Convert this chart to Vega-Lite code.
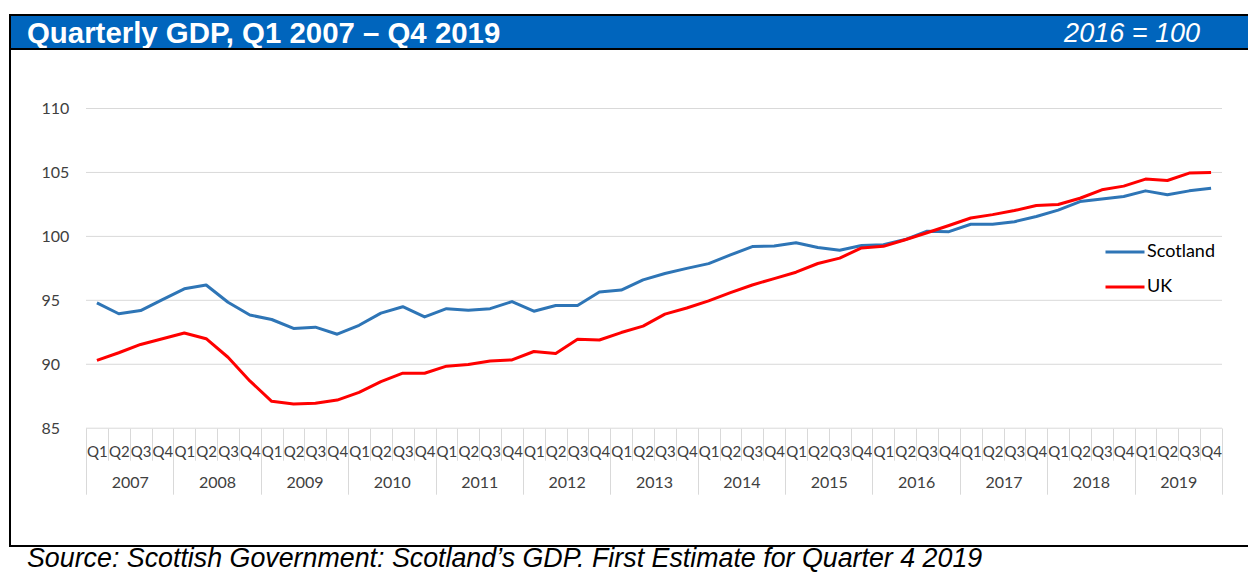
{
  "$schema": "https://vega.github.io/schema/vega-lite/v6.json",
  "padding": {"left": 9, "top": 14, "right": 0, "bottom": 0},
  "background": "white",
  "config": {"view": {"stroke": null}},
  "title": {
    "text": "Source: Scottish Government: Scotland\u2019s GDP. First Estimate for Quarter 4 2019",
    "orient": "bottom", "anchor": "start", "frame": "bounds",
    "font": "Liberation Sans", "fontSize": 26.8, "fontStyle": "italic", "fontWeight": "normal",
    "color": "#000000", "baseline": "alphabetic", "offset": 19.5, "dx": 18
  },
  "datasets": {
    "gdp": [
      {"period": "2007 Q1", "year": "2007", "Scotland": 94.8, "UK": 90.3},
      {"period": "2007 Q2", "year": "2007", "Scotland": 93.95, "UK": 90.9},
      {"period": "2007 Q3", "year": "2007", "Scotland": 94.2, "UK": 91.55},
      {"period": "2007 Q4", "year": "2007", "Scotland": 95.05, "UK": 92.0},
      {"period": "2008 Q1", "year": "2008", "Scotland": 95.9, "UK": 92.45},
      {"period": "2008 Q2", "year": "2008", "Scotland": 96.2, "UK": 92.0},
      {"period": "2008 Q3", "year": "2008", "Scotland": 94.85, "UK": 90.55},
      {"period": "2008 Q4", "year": "2008", "Scotland": 93.85, "UK": 88.7},
      {"period": "2009 Q1", "year": "2009", "Scotland": 93.5, "UK": 87.1},
      {"period": "2009 Q2", "year": "2009", "Scotland": 92.8, "UK": 86.9},
      {"period": "2009 Q3", "year": "2009", "Scotland": 92.9, "UK": 86.95},
      {"period": "2009 Q4", "year": "2009", "Scotland": 92.35, "UK": 87.2},
      {"period": "2010 Q1", "year": "2010", "Scotland": 93.05, "UK": 87.8},
      {"period": "2010 Q2", "year": "2010", "Scotland": 94.0, "UK": 88.65},
      {"period": "2010 Q3", "year": "2010", "Scotland": 94.5, "UK": 89.3},
      {"period": "2010 Q4", "year": "2010", "Scotland": 93.7, "UK": 89.3},
      {"period": "2011 Q1", "year": "2011", "Scotland": 94.35, "UK": 89.85},
      {"period": "2011 Q2", "year": "2011", "Scotland": 94.22, "UK": 89.98},
      {"period": "2011 Q3", "year": "2011", "Scotland": 94.35, "UK": 90.26},
      {"period": "2011 Q4", "year": "2011", "Scotland": 94.9, "UK": 90.34},
      {"period": "2012 Q1", "year": "2012", "Scotland": 94.15, "UK": 91.0},
      {"period": "2012 Q2", "year": "2012", "Scotland": 94.6, "UK": 90.85},
      {"period": "2012 Q3", "year": "2012", "Scotland": 94.6, "UK": 91.95},
      {"period": "2012 Q4", "year": "2012", "Scotland": 95.65, "UK": 91.9},
      {"period": "2013 Q1", "year": "2013", "Scotland": 95.8, "UK": 92.48},
      {"period": "2013 Q2", "year": "2013", "Scotland": 96.6, "UK": 92.98},
      {"period": "2013 Q3", "year": "2013", "Scotland": 97.1, "UK": 93.92},
      {"period": "2013 Q4", "year": "2013", "Scotland": 97.5, "UK": 94.4},
      {"period": "2014 Q1", "year": "2014", "Scotland": 97.87, "UK": 94.96},
      {"period": "2014 Q2", "year": "2014", "Scotland": 98.55, "UK": 95.6},
      {"period": "2014 Q3", "year": "2014", "Scotland": 99.2, "UK": 96.2},
      {"period": "2014 Q4", "year": "2014", "Scotland": 99.25, "UK": 96.7},
      {"period": "2015 Q1", "year": "2015", "Scotland": 99.5, "UK": 97.2},
      {"period": "2015 Q2", "year": "2015", "Scotland": 99.13, "UK": 97.88},
      {"period": "2015 Q3", "year": "2015", "Scotland": 98.92, "UK": 98.3},
      {"period": "2015 Q4", "year": "2015", "Scotland": 99.28, "UK": 99.1},
      {"period": "2016 Q1", "year": "2016", "Scotland": 99.35, "UK": 99.22},
      {"period": "2016 Q2", "year": "2016", "Scotland": 99.75, "UK": 99.74},
      {"period": "2016 Q3", "year": "2016", "Scotland": 100.4, "UK": 100.28},
      {"period": "2016 Q4", "year": "2016", "Scotland": 100.37, "UK": 100.85},
      {"period": "2017 Q1", "year": "2017", "Scotland": 100.95, "UK": 101.44},
      {"period": "2017 Q2", "year": "2017", "Scotland": 100.95, "UK": 101.7},
      {"period": "2017 Q3", "year": "2017", "Scotland": 101.15, "UK": 102.02},
      {"period": "2017 Q4", "year": "2017", "Scotland": 101.55, "UK": 102.41},
      {"period": "2018 Q1", "year": "2018", "Scotland": 102.05, "UK": 102.49},
      {"period": "2018 Q2", "year": "2018", "Scotland": 102.72, "UK": 102.98},
      {"period": "2018 Q3", "year": "2018", "Scotland": 102.93, "UK": 103.64},
      {"period": "2018 Q4", "year": "2018", "Scotland": 103.12, "UK": 103.93},
      {"period": "2019 Q1", "year": "2019", "Scotland": 103.56, "UK": 104.48},
      {"period": "2019 Q2", "year": "2019", "Scotland": 103.25, "UK": 104.37},
      {"period": "2019 Q3", "year": "2019", "Scotland": 103.56, "UK": 104.95},
      {"period": "2019 Q4", "year": "2019", "Scotland": 103.77, "UK": 105.0}
    ],
    "grid": [{"v": 85}, {"v": 90}, {"v": 95}, {"v": 100}, {"v": 105}, {"v": 110}],
    "header": [{"title": "Quarterly GDP, Q1 2007 \u2013 Q4 2019", "note": "2016 = 100"}]
  },
  "vconcat": [
    {
      "width": 1239,
      "height": 34,
      "view": {"fill": "#0065BD", "stroke": "#000000", "strokeWidth": 2},
      "data": {"name": "header"},
      "layer": [
        {
          "mark": {"type": "text", "align": "left", "baseline": "middle", "dx": 17, "dy": 2,
                   "font": "Liberation Sans", "fontSize": 29.4, "fontWeight": "bold", "color": "#FFFFFF"},
          "encoding": {
            "x": {"datum": 0, "type": "quantitative", "scale": {"domain": [0, 1], "nice": false, "zero": false}, "axis": null},
            "text": {"field": "title"}
          }
        },
        {
          "mark": {"type": "text", "align": "right", "baseline": "middle", "dx": -49, "dy": 2,
                   "font": "Liberation Sans", "fontSize": 27, "fontStyle": "italic", "color": "#FFFFFF"},
          "encoding": {
            "x": {"datum": 1, "type": "quantitative", "axis": null},
            "text": {"field": "note"}
          }
        }
      ]
    },
    {
      "width": 1239,
      "height": 497,
      "view": {"stroke": "#000000", "strokeWidth": 2, "fill": "white"},
      "layer": [
        {
          "layer": [
            {
              "data": {"name": "grid"},
              "mark": {"type": "rule", "color": "#D9D9D9", "strokeWidth": 1},
              "encoding": {
                "y": {
                  "field": "v", "type": "quantitative",
                  "scale": {"domain": [75.79, 114.652], "nice": false, "zero": false},
                  "axis": {
                    "values": [85, 90, 95, 100, 105, 110], "title": null, "grid": false, "domain": false,
                    "ticks": false, "tickSize": 0, "offset": -36, "labelPadding": 5, "labelAlign": "left",
                    "labelBaseline": "middle", "labelFont": "Lato", "labelFontSize": 16, "labelColor": "#404040"
                  }
                },
                "x": {
                  "datum": "2007 Q1", "type": "ordinal", "bandPosition": 0,
                  "scale": {"type": "band", "paddingInner": 0, "paddingOuter": 0, "range": [76, 1212]},
                  "axis": {
                    "orient": "bottom", "offset": -117.8, "title": null, "domain": false, "grid": false,
                    "bandPosition": 0.5,
                    "ticks": true, "tickBand": "extent", "tickSize": 32, "tickColor": "#D9D9D9", "tickWidth": 1,
                    "labelExpr": "substring(datum.label, 5)", "labelAngle": 0, "labelOverlap": false, "labelBound": false,
                    "labelFont": "Lato", "labelFontSize": 15, "labelColor": "#404040", "labelPadding": -16
                  }
                },
                "x2": {"datum": "2019 Q4", "bandPosition": 1}
              }
            },
            {
              "data": {"name": "gdp"},
              "transform": [{"fold": ["Scotland", "UK"], "as": ["series", "value"]}],
              "mark": {"type": "line", "strokeWidth": 3, "strokeJoin": "round"},
              "encoding": {
                "x": {
                  "field": "period", "type": "ordinal",
                  "scale": {"type": "band", "paddingInner": 0, "paddingOuter": 0, "range": [76, 1212]},
                  "axis": {
                    "orient": "bottom", "offset": -117.8, "title": null, "domain": false, "grid": false,
                    "bandPosition": 0.5,
                    "ticks": true, "tickBand": "extent", "tickSize": 32, "tickColor": "#D9D9D9", "tickWidth": 1,
                    "labelExpr": "substring(datum.label, 5)", "labelAngle": 0, "labelOverlap": false, "labelBound": false,
                    "labelFont": "Lato", "labelFontSize": 15, "labelColor": "#404040", "labelPadding": -16
                  }
                },
                "y": {
                  "field": "value", "type": "quantitative",
                  "axis": {
                    "values": [85, 90, 95, 100, 105, 110], "title": null, "grid": false, "domain": false,
                    "ticks": false, "tickSize": 0, "offset": -36, "labelPadding": 5, "labelAlign": "left",
                    "labelBaseline": "middle", "labelFont": "Lato", "labelFontSize": 16, "labelColor": "#404040"
                  }
                },
                "color": {
                  "field": "series", "type": "nominal",
                  "scale": {"domain": ["Scotland", "UK"], "range": ["#2E75B6", "#FF0000"]},
                  "legend": {
                    "title": null, "orient": "none", "legendX": 1094, "legendY": 216,
                    "symbolType": "stroke", "symbolSize": 1521, "symbolStrokeWidth": 3,
                    "labelFont": "Lato", "labelFontSize": 18, "labelColor": "#000000", "labelOffset": 1,
                    "rowPadding": 5, "padding": 0
                  }
                }
              }
            }
          ]
        },
        {
          "data": {"name": "gdp"},
          "mark": {"type": "tick", "opacity": 0},
          "encoding": {
            "x": {
              "field": "year", "type": "ordinal",
              "scale": {"type": "band", "paddingInner": 0, "paddingOuter": 0, "range": [76, 1212]},
              "axis": {
                "orient": "bottom", "offset": -117.8, "title": null, "domain": false, "grid": false,
                "ticks": true, "tickBand": "extent", "tickSize": 66, "tickColor": "#D9D9D9", "tickWidth": 1,
                "labelAngle": 0, "labelOverlap": false, "labelBound": false,
                "labelFont": "Lato", "labelFontSize": 16, "labelColor": "#404040", "labelPadding": -20
              }
            }
          }
        }
      ],
      "resolve": {"scale": {"x": "independent"}, "axis": {"x": "independent"}}
    }
  ],
  "spacing": 0,
  "bounds": "flush"
}
